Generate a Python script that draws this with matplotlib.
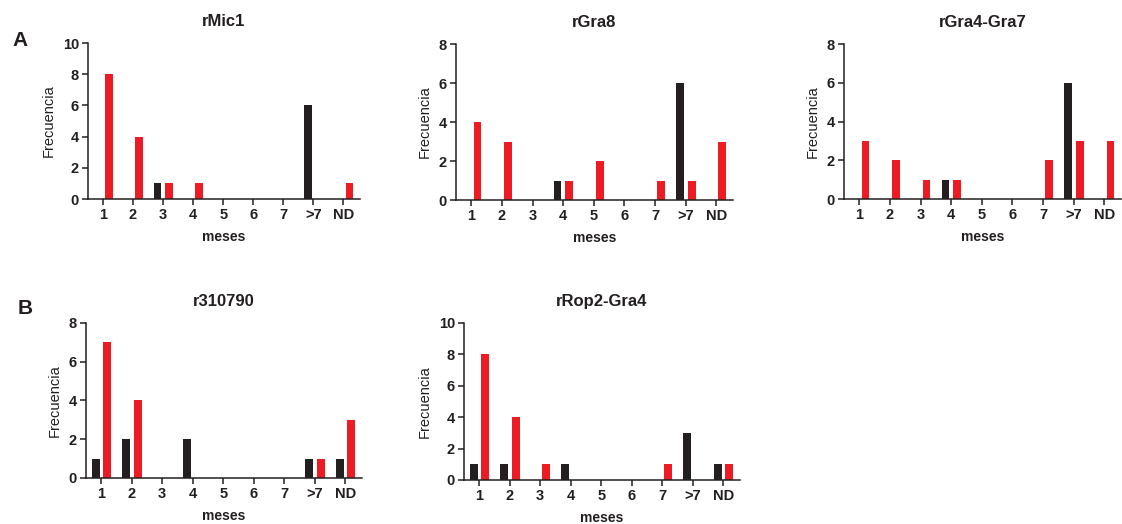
import numpy as np
import matplotlib
matplotlib.use('Agg')
import matplotlib.pyplot as plt

plt.rcParams['font.family'] = ['Liberation Sans', 'DejaVu Sans']

ROJO = '#ED1C24'
NEGRO = '#231F20'

meses = ['1', '2', '3', '4', '5', '6', '7', '>7', 'ND']

titulos = ['rMic1', 'rGra8', 'rGra4-Gra7', 'r310790', 'rRop2-Gra4']

negro_rMic1 = [0, 0, 1, 0, 0, 0, 0, 6, 0]
rojo_rMic1 = [8, 4, 1, 1, 0, 0, 0, 0, 1]

negro_rGra8 = [0, 0, 0, 1, 0, 0, 0, 6, 0]
rojo_rGra8 = [4, 3, 0, 1, 2, 0, 1, 1, 3]

negro_rGra4_Gra7 = [0, 0, 0, 1, 0, 0, 0, 6, 0]
rojo_rGra4_Gra7 = [3, 2, 1, 1, 0, 0, 2, 3, 3]

negro_r310790 = [1, 2, 0, 2, 0, 0, 0, 1, 1]
rojo_r310790 = [7, 4, 0, 0, 0, 0, 0, 1, 3]

negro_rRop2_Gra4 = [1, 1, 0, 1, 0, 0, 0, 3, 1]
rojo_rRop2_Gra4 = [8, 4, 1, 0, 0, 0, 1, 0, 1]

ymax = [10, 8, 8, 8, 10]

negros = [negro_rMic1, negro_rGra8, negro_rGra4_Gra7, negro_r310790, negro_rRop2_Gra4]
rojos = [rojo_rMic1, rojo_rGra8, rojo_rGra4_Gra7, rojo_r310790, rojo_rRop2_Gra4]

# posiciones de los ejes [left, bottom, width, height]
posiciones = [
    [0.0784, 0.6202, 0.2424, 0.2977],
    [0.4064, 0.6183, 0.2469, 0.2977],
    [0.7522, 0.6202, 0.2470, 0.2958],
    [0.0766, 0.0878, 0.2460, 0.2958],
    [0.4135, 0.0840, 0.2460, 0.2996],
]

fig = plt.figure(figsize=(11.22, 5.24), dpi=100)

x = np.arange(len(meses))
ANCHO = 0.25

for i in range(5):
    ax = fig.add_axes(posiciones[i])
    ax.bar(x - 0.18, negros[i], width=ANCHO, color=NEGRO)
    ax.bar(x + 0.20, rojos[i], width=ANCHO, color=ROJO)
    ax.set_xlim(-0.5, 8.55)
    ax.set_ylim(0, ymax[i])
    ax.set_yticks(np.arange(0, ymax[i] + 1, 2))
    ax.set_xticks(x)
    ax.set_xticklabels(meses)
    for s in ['top', 'right']:
        ax.spines[s].set_visible(False)
    for s in ['left', 'bottom']:
        ax.spines[s].set_linewidth(1.1)
        ax.spines[s].set_color(NEGRO)
    ax.tick_params(axis='both', length=4, width=1.1, color=NEGRO, pad=2.5,
                   labelsize=10.5, labelcolor=NEGRO)
    for t in ax.get_xticklabels() + ax.get_yticklabels():
        t.set_fontweight('bold')
    ax.set_title(titulos[i], fontsize=12, fontweight='bold', pad=12, color=NEGRO)
    ax.set_ylabel('Frecuencia', fontsize=10.5, labelpad=5, color=NEGRO)
    ax.set_xlabel('meses', fontsize=10, fontweight='bold', labelpad=6, color=NEGRO)

fig.text(0.011, 0.912, 'A', fontsize=15, fontweight='bold', color=NEGRO)
fig.text(0.016, 0.400, 'B', fontsize=15, fontweight='bold', color=NEGRO)

fig.savefig('out.png', dpi=100)
